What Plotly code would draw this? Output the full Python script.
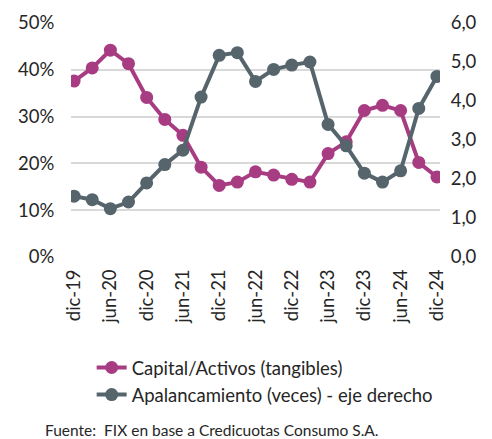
import plotly.graph_objects as go

periods = ["dic-19","mar-20","jun-20","sep-20","dic-20","mar-21","jun-21","sep-21",
           "dic-21","mar-22","jun-22","sep-22","dic-22","mar-23","jun-23","sep-23",
           "dic-23","mar-24","jun-24","sep-24","dic-24"]
capital_activos = [37.6,40.4,44.2,41.3,34.1,29.4,26.0,19.2,15.3,16.0,18.2,17.5,16.6,16.0,
                   22.1,24.6,31.3,32.4,31.3,20.2,17.1]
apalancamiento = [1.56,1.47,1.24,1.41,1.90,2.37,2.74,4.10,5.17,5.24,4.50,4.81,4.92,5.00,
                  3.40,2.85,2.15,1.92,2.21,3.81,4.63]
tick_labels = periods[::2]

MAG = "#A83C82"
GRAY = "#56646C"
FONT = "Lato, 'Open Sans', sans-serif"
FS = 18.5

idx = list(range(len(periods)))

fig = go.Figure()
fig.add_trace(go.Scatter(x=idx, y=capital_activos, name="Capital/Activos (tangibles)",
                         mode="lines+markers", line=dict(color=MAG, width=4),
                         marker=dict(size=13, color=MAG), yaxis="y"))
fig.add_trace(go.Scatter(x=idx, y=apalancamiento, name="Apalancamiento (veces) - eje derecho",
                         mode="lines+markers", line=dict(color=GRAY, width=4),
                         marker=dict(size=13, color=GRAY), yaxis="y2"))

fig.update_layout(
    width=484, height=431,
    margin=dict(l=63, r=52, t=14.7, b=182.3, autoexpand=False),
    paper_bgcolor="white", plot_bgcolor="white",
    font=dict(family=FONT, size=FS, color="#262626"),
    showlegend=True,
    legend=dict(x=0.056, y=-0.393, xanchor="left", yanchor="top",
                font=dict(size=FS), tracegroupgap=0, itemwidth=30,
                bgcolor="rgba(0,0,0,0)"),
    xaxis=dict(range=[-0.17, 20.17], tickmode="array",
               tickvals=idx[::2], ticktext=tick_labels, tickangle=-90,
               showgrid=False, zeroline=False, showline=False,
               ticks="outside", ticklen=4, tickcolor="rgba(0,0,0,0)",
               tickfont=dict(size=FS)),
    yaxis=dict(range=[0, 50], dtick=10, ticksuffix="%", showgrid=True,
               gridcolor="#D9D9D9", gridwidth=1.5, zeroline=False, showline=False,
               ticks="outside", ticklen=12, tickcolor="rgba(0,0,0,0)",
               tickfont=dict(size=FS)),
    yaxis2=dict(range=[0, 6], dtick=1, overlaying="y", side="right",
                tickformat=".1f", showgrid=False,
                zeroline=False, showline=False,
                ticks="outside", ticklen=6, tickcolor="rgba(0,0,0,0)",
                tickfont=dict(size=FS)),
    separators=",.",
    annotations=[dict(text="Fuente:  FIX en base a Credicuotas Consumo S.A.",
                      xref="paper", yref="paper", x=-0.076, y=-0.741,
                      xanchor="left", yanchor="middle", showarrow=False,
                      font=dict(size=15.5, color="#262626"))],
)

fig.write_html("out.html")
